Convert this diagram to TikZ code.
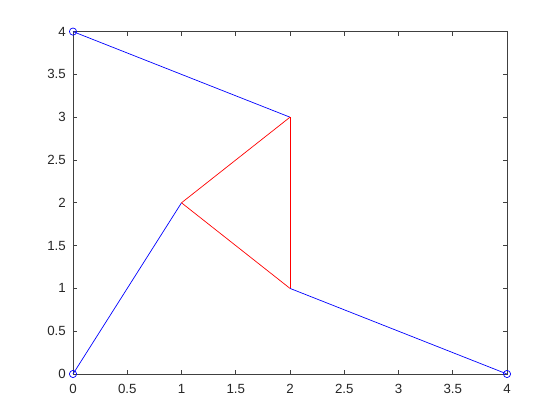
\documentclass[tikz,border=0pt]{standalone}
\usepackage{fontspec}
\setmainfont{Liberation Sans}
\begin{document}
\begin{tikzpicture}[x=1pt,y=1pt,
  axisline/.style={draw=black!75, line width=0.7pt},
  tickline/.style={draw=black!75, line width=0.6pt},
  ticklabel/.style={inner sep=0pt, text=black!85, font=\fontsize{13.3}{15}\selectfont},
  blueline/.style={draw=blue, line width=0.7pt},
  redline/.style={draw=red, line width=0.7pt},
  marker/.style={draw=blue, line width=0.7pt}]
\useasboundingbox (0,0) rectangle (560,420);
\fill[white] (0,0) rectangle (560,420);
\begin{scope}[shift={(73,46)}, x=108.5pt, y=85.6pt]
  % axes box
  \draw[axisline] (0,0) rectangle (4,4);
  % ticks and labels
  \foreach \v/\t in {0/0,0.5/0.5,1/1,1.5/1.5,2/2,2.5/2.5,3/3,3.5/3.5,4/4}{
    \draw[tickline] (\v,0) -- ++(0,4.3pt);
    \draw[tickline] (\v,4) -- ++(0,-4.3pt);
    \draw[tickline] (0,\v) -- ++(4.3pt,0);
    \draw[tickline] (4,\v) -- ++(-4.3pt,0);
    \node[ticklabel, anchor=north] at ([yshift=-9.7pt]\v,0) {\t};
    \node[ticklabel, anchor=east] at ([xshift=-7pt]0,\v) {\t};
  }
  % data points
  \coordinate (A) at (0,0);
  \coordinate (B) at (1,2);
  \coordinate (C) at (0,4);
  \coordinate (D) at (2,3);
  \coordinate (E) at (2,1);
  \coordinate (F) at (4,0);
  \draw[blueline] (A) -- (B);
  \draw[blueline] (C) -- (D);
  \draw[blueline] (E) -- (F);
  \draw[redline] (B) -- (D);
  \draw[redline] (D) -- (E);
  \draw[redline] (E) -- (B);
  \foreach \p in {A,C,F}{
    \draw[marker] (\p) circle[radius=3.6pt];
  }
\end{scope}
\end{tikzpicture}
\end{document}
